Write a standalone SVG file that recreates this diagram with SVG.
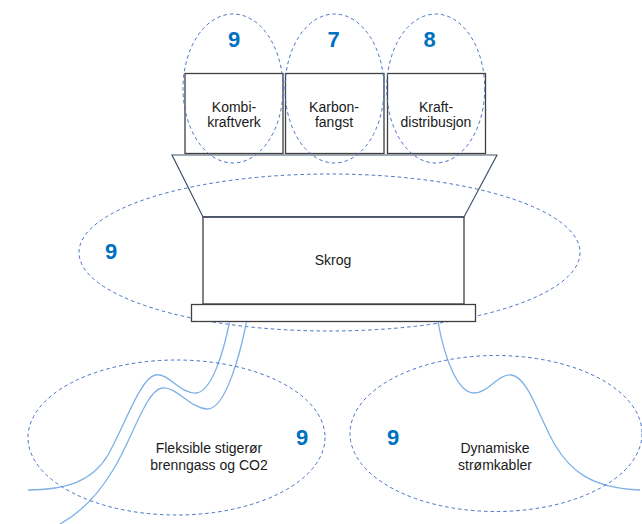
<svg xmlns="http://www.w3.org/2000/svg" width="642" height="524" viewBox="0 0 642 524">
<style>
.box{fill:#fff;stroke:#404040;stroke-width:1.3}
.ell{fill:none;stroke:#4472C4;stroke-width:1;stroke-dasharray:3.5,3}
.cable{fill:none;stroke:#7FB0E6;stroke-width:1.3}
.lbl{font-family:"Liberation Sans",Arial,sans-serif;font-size:14px;fill:#1a1a1a;text-anchor:middle}
.num{font-family:"Liberation Sans",Arial,sans-serif;font-size:22px;font-weight:bold;fill:#0070C0;text-anchor:middle}
</style>
<rect width="642" height="524" fill="#fff"/>
<g id="top-boxes">
<g id="kombikraftverk"><rect class="box" x="185" y="73.5" width="98" height="80"/><text class="lbl" x="234" y="112">Kombi-</text><text class="lbl" x="234" y="127">kraftverk</text></g>
<g id="karbonfangst"><rect class="box" x="285.5" y="73.5" width="98.5" height="80"/><text class="lbl" x="334" y="112">Karbon-</text><text class="lbl" x="334" y="127">fangst</text></g>
<g id="kraftdistribusjon"><rect class="box" x="387.5" y="73.5" width="98" height="80"/><text class="lbl" x="436" y="112">Kraft-</text><text class="lbl" x="436" y="127">distribusjon</text></g>
</g>
<g id="deck"><polygon points="172,155 497,155 464,217 203,217" fill="#fff" stroke="#44546A" stroke-width="1.2"/></g>
<g id="zone-skrog"><ellipse class="ell" cx="329.5" cy="252.5" rx="250.5" ry="78.5"/><text class="num" x="111" y="259">9</text></g>
<g id="skrog"><rect class="box" x="203" y="217" width="261" height="87" stroke="#666"/><line x1="203" y1="217" x2="464" y2="217" stroke="#44546A" stroke-width="1.3"/><text class="lbl" x="333" y="265">Skrog</text></g>
<g id="plate"><rect class="box" x="191.5" y="304.5" width="284" height="17"/></g>
<g id="zones-top">
<g id="zone1"><ellipse class="ell" cx="233" cy="88.5" rx="50" ry="74.5"/><text class="num" x="234" y="47">9</text></g>
<g id="zone2"><ellipse class="ell" cx="334.5" cy="88.5" rx="49.5" ry="74.5"/><text class="num" x="333.5" y="47">7</text></g>
<g id="zone3"><ellipse class="ell" cx="435.7" cy="88.5" rx="49" ry="74.5"/><text class="num" x="429.5" y="47">8</text></g>
</g>
<g id="connectors">
<path class="cable" d="M229.5,322 C224,350 212,392 196,393 C180,394 168,372 155,375 C140,379 125,425 108,455 C92,482 65,490 28,490"/>
<path class="cable" d="M246.5,322 C241,350 226,410 207,409 C190,408 176,386 162,388 C146,390 132,440 113,470 C98,495 82,512 60,524"/>
<path class="cable" d="M438,322 C445,360 458,393 474,393 C488,393 498,374 511,375 C528,376 540,420 555,445 C570,470 590,488 640,490"/>
</g>
<g id="risers"><ellipse class="ell" cx="176.5" cy="437.5" rx="148.5" ry="77.5"/><text class="num" x="302" y="445">9</text><text class="lbl" x="209" y="453">Fleksible stigerør</text><text class="lbl" x="209" y="470">brenngass og CO2</text></g>
<g id="cables"><ellipse class="ell" cx="496" cy="433.5" rx="146" ry="78"/><text class="num" x="393" y="445">9</text><text class="lbl" x="495" y="453">Dynamiske</text><text class="lbl" x="495" y="470">strømkabler</text></g>
</svg>
